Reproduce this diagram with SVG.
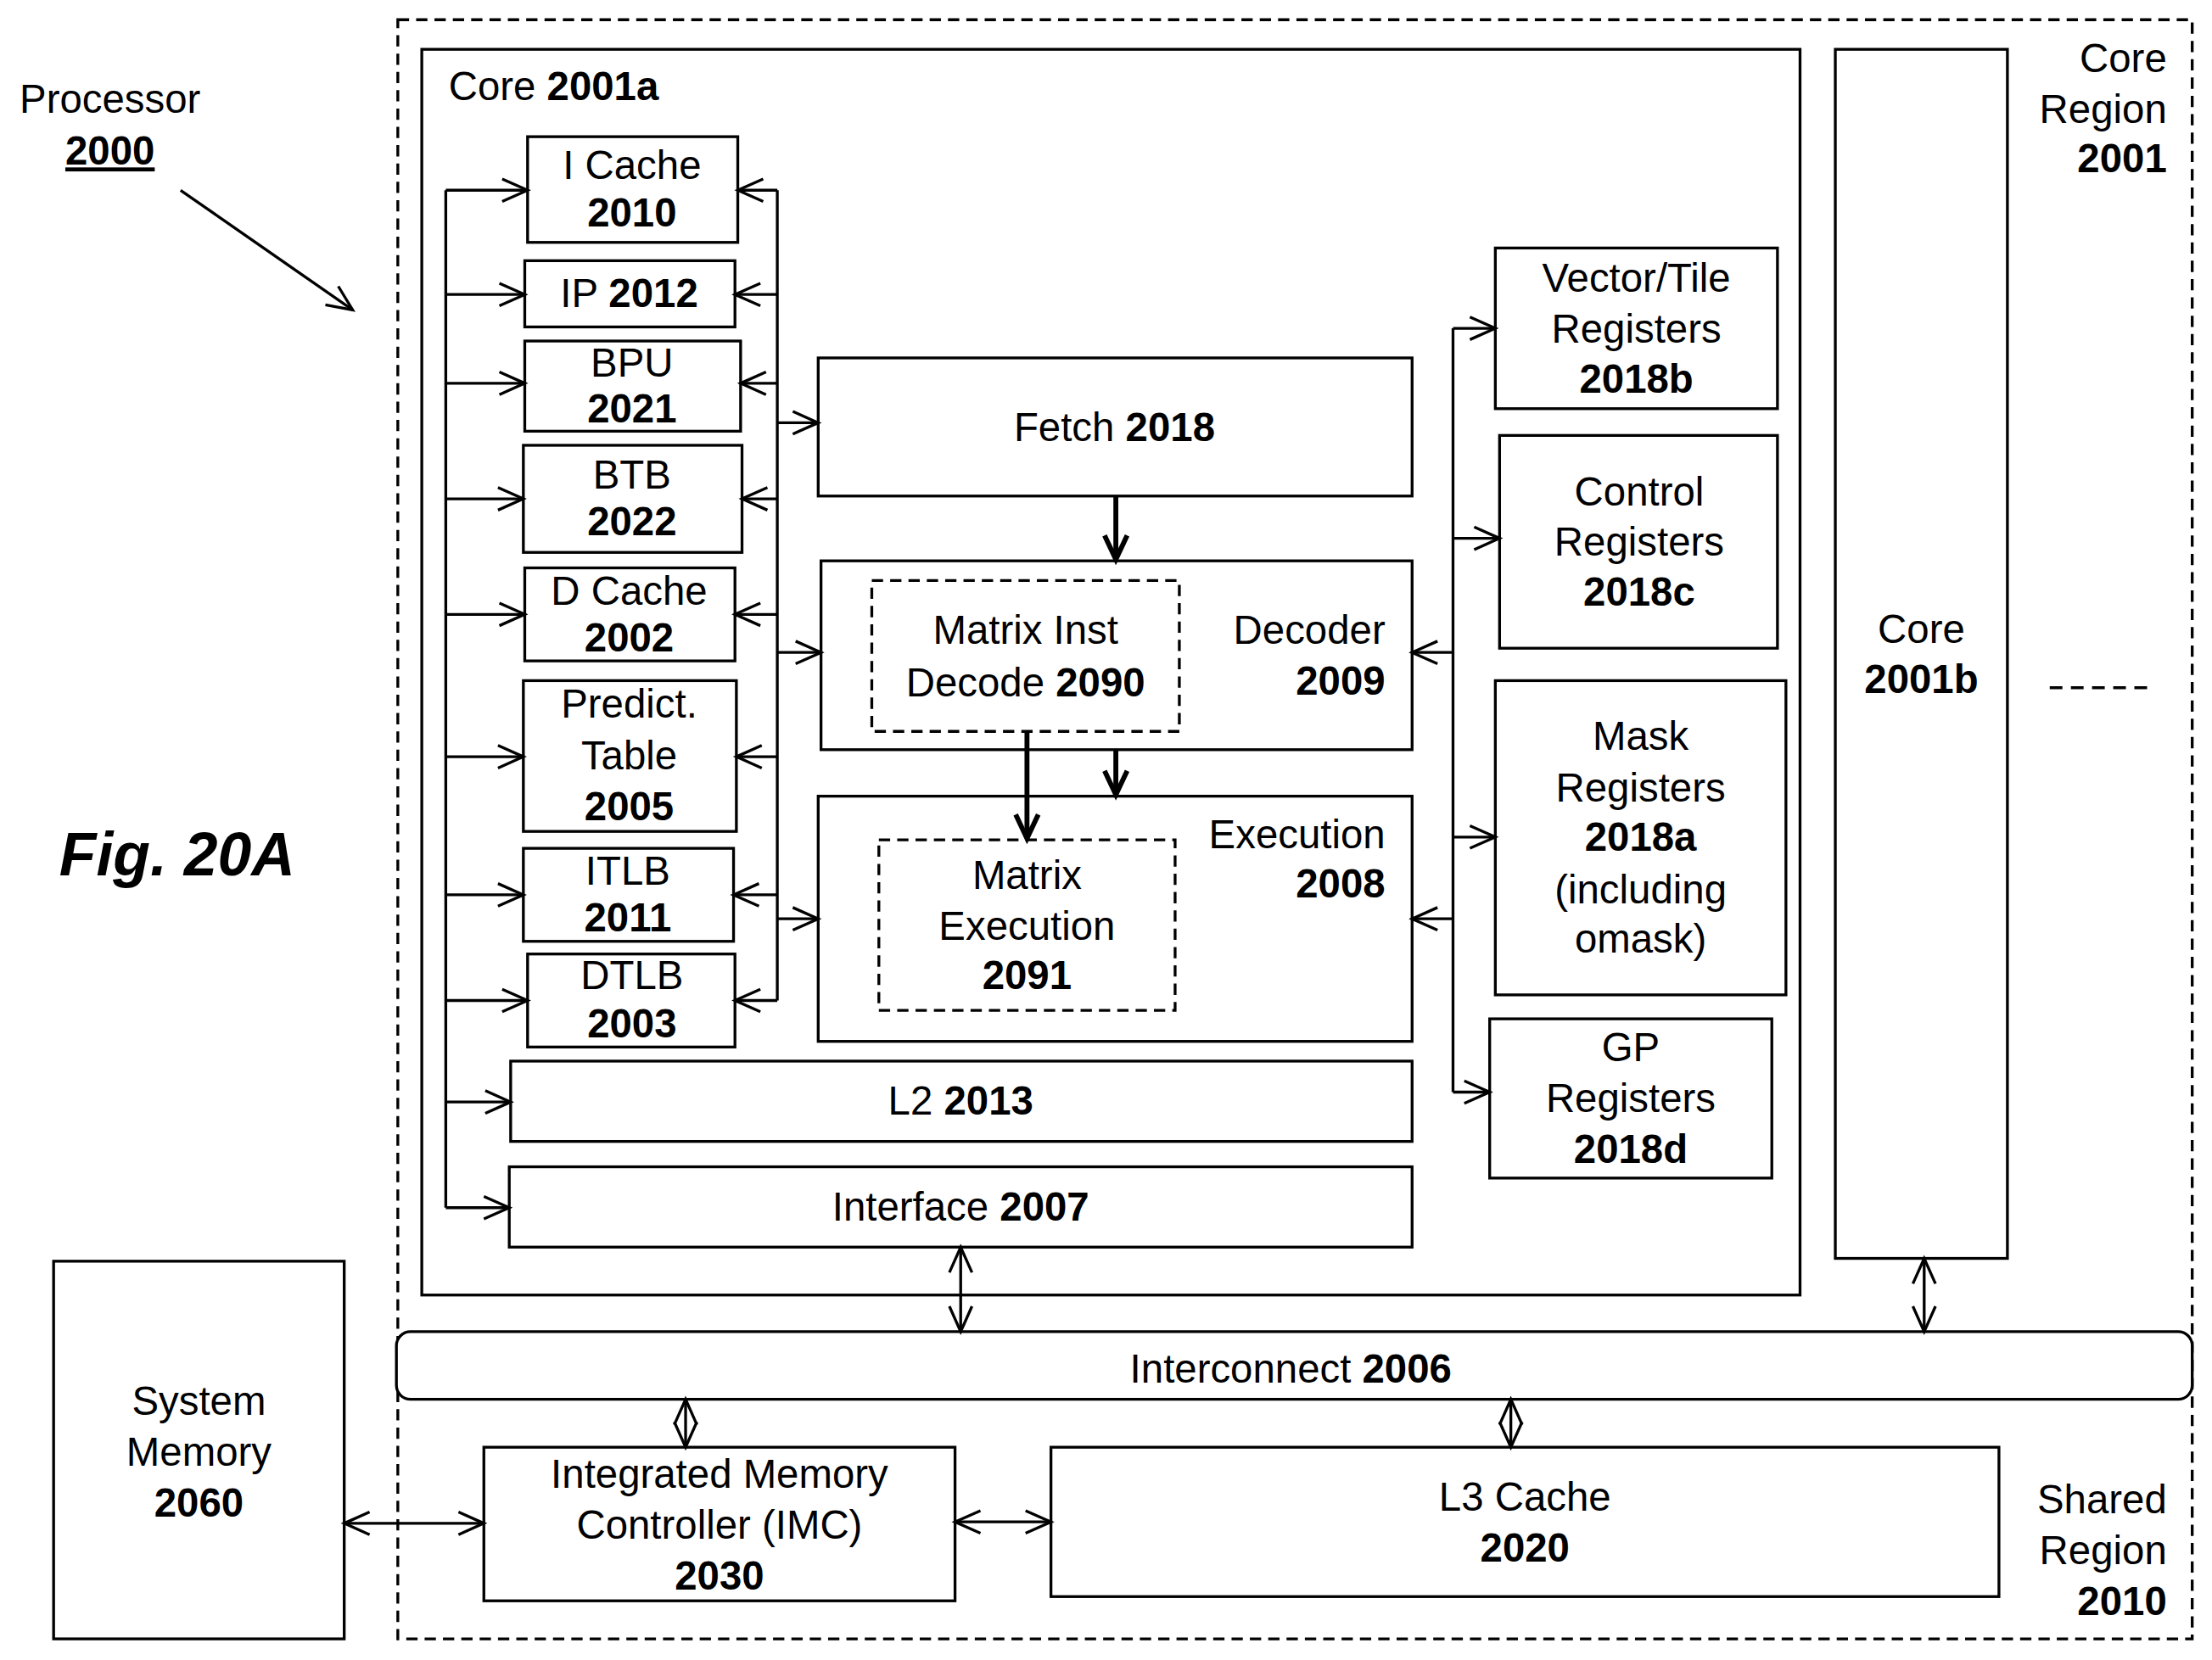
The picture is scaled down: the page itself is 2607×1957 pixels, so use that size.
<svg xmlns="http://www.w3.org/2000/svg" width="2607" height="1957" viewBox="0 0 2607 1957">
<defs>
<style>
.b{fill:#fff;stroke:#000;stroke-width:2}
.d{fill:none;stroke:#000;stroke-width:2;stroke-dasharray:8,5}
text{font-family:"Liberation Sans",Arial,sans-serif;font-size:28.5px;fill:#000;text-anchor:middle}
.r{text-anchor:end}
.l{text-anchor:start}
.bo{font-weight:bold}
.c line,.c path{stroke:#000;stroke-width:2;fill:none}
.c .t{stroke-width:3.5}
</style>
<marker id="a" markerUnits="userSpaceOnUse" markerWidth="24" markerHeight="24" refX="20" refY="12" orient="auto-start-reverse"><path d="M2,4 L20,12 L2,20" fill="none" stroke="#000" stroke-width="2"/></marker>
<marker id="at" markerUnits="userSpaceOnUse" markerWidth="24" markerHeight="24" refX="20" refY="12" orient="auto"><path d="M3,4 L20,12 L3,20" fill="none" stroke="#000" stroke-width="3.5"/></marker>
</defs>
<rect width="2607" height="1957" fill="#fff"/>
<g transform="scale(1.6626,1.6613)">
<g id="labels">
<text x="78" y="80">Processor</text>
<text x="78" y="117" class="bo" text-decoration="underline">2000</text>
<text x="42" y="621" class="l bo" font-style="italic" style="font-size:43px">Fig. 20A</text>
<text x="1536" y="51" class="r">Core</text>
<text x="1536" y="87" class="r">Region</text>
<text x="1536" y="122" class="r bo">2001</text>
<text x="1536" y="1074" class="r">Shared</text>
<text x="1536" y="1110" class="r">Region</text>
<text x="1536" y="1146" class="r bo">2010</text>
<line x1="1453" y1="488" x2="1527" y2="488" stroke="#000" stroke-width="2" stroke-dasharray="9,6"/>
</g>
<rect id="processor" class="d" x="282" y="14" width="1272" height="1149"/>
<g id="core2001a"><rect class="b" x="299" y="35" width="977" height="884"/><text x="318" y="71" class="l">Core <tspan class="bo">2001a</tspan></text></g>
<g id="core2001b"><rect class="b" x="1301" y="35" width="122" height="858"/><text x="1362" y="456">Core</text><text x="1362" y="492" class="bo">2001b</text></g>
<g id="icache"><rect class="b" x="374" y="97" width="149" height="75"/><text x="448" y="127">I Cache</text><text x="448" y="161" class="bo">2010</text></g>
<g id="ip"><rect class="b" x="372" y="185" width="149" height="47"/><text x="446" y="218">IP <tspan class="bo">2012</tspan></text></g>
<g id="bpu"><rect class="b" x="372" y="242" width="153" height="64"/><text x="448" y="267">BPU</text><text x="448" y="300" class="bo">2021</text></g>
<g id="btb"><rect class="b" x="371" y="316" width="155" height="76"/><text x="448" y="347">BTB</text><text x="448" y="380" class="bo">2022</text></g>
<g id="dcache"><rect class="b" x="372" y="403" width="149" height="66"/><text x="446" y="429">D Cache</text><text x="446" y="462" class="bo">2002</text></g>
<g id="predict"><rect class="b" x="371" y="483" width="151" height="107"/><text x="446" y="509">Predict.</text><text x="446" y="546">Table</text><text x="446" y="582" class="bo">2005</text></g>
<g id="itlb"><rect class="b" x="371" y="602" width="149" height="66"/><text x="445" y="628">ITLB</text><text x="445" y="661" class="bo">2011</text></g>
<g id="dtlb"><rect class="b" x="374" y="677" width="147" height="66"/><text x="448" y="702">DTLB</text><text x="448" y="736" class="bo">2003</text></g>
<g id="l2"><rect class="b" x="362" y="753" width="639" height="57"/><text x="681" y="791">L2 <tspan class="bo">2013</tspan></text></g>
<g id="interface"><rect class="b" x="361" y="828" width="640" height="57"/><text x="681" y="866">Interface <tspan class="bo">2007</tspan></text></g>
<g id="fetch"><rect class="b" x="580" y="254" width="421" height="98"/><text x="790" y="313">Fetch <tspan class="bo">2018</tspan></text></g>
<g id="decoder"><rect class="b" x="582" y="398" width="419" height="134"/><text x="982" y="457" class="r">Decoder</text><text x="982" y="493" class="r bo">2009</text>
<rect class="d" x="618" y="412" width="218" height="107"/><text x="727" y="457">Matrix Inst</text><text x="727" y="494">Decode <tspan class="bo">2090</tspan></text></g>
<g id="execution"><rect class="b" x="580" y="565" width="421" height="174"/><text x="982" y="602" class="r">Execution</text><text x="982" y="637" class="r bo">2008</text>
<rect class="d" x="623" y="596" width="210" height="121"/><text x="728" y="631">Matrix</text><text x="728" y="667">Execution</text><text x="728" y="702" class="bo">2091</text></g>
<g id="vector"><rect class="b" x="1060" y="176" width="200" height="114"/><text x="1160" y="207">Vector/Tile</text><text x="1160" y="243">Registers</text><text x="1160" y="279" class="bo">2018b</text></g>
<g id="control"><rect class="b" x="1063" y="309" width="197" height="151"/><text x="1162" y="359">Control</text><text x="1162" y="394">Registers</text><text x="1162" y="430" class="bo">2018c</text></g>
<g id="mask"><rect class="b" x="1060" y="483" width="206" height="223"/><text x="1163" y="532">Mask</text><text x="1163" y="569">Registers</text><text x="1163" y="604" class="bo">2018a</text><text x="1163" y="641">(including</text><text x="1163" y="676">omask)</text></g>
<g id="gp"><rect class="b" x="1056" y="723" width="200" height="113"/><text x="1156" y="753">GP</text><text x="1156" y="789">Registers</text><text x="1156" y="825" class="bo">2018d</text></g>
<g id="interconnect"><rect class="b" x="281" y="945" width="1273" height="48" rx="10"/><text x="915" y="981">Interconnect <tspan class="bo">2006</tspan></text></g>
<g id="imc"><rect class="b" x="343" y="1027" width="334" height="109"/><text x="510" y="1056">Integrated Memory</text><text x="510" y="1092">Controller (IMC)</text><text x="510" y="1128" class="bo">2030</text></g>
<g id="l3"><rect class="b" x="745" y="1027" width="672" height="106"/><text x="1081" y="1072">L3 Cache</text><text x="1081" y="1108" class="bo">2020</text></g>
<g id="sysmem"><rect class="b" x="38" y="895" width="206" height="268"/><text x="141" y="1004">System</text><text x="141" y="1040">Memory</text><text x="141" y="1076" class="bo">2060</text></g>
<g id="connectors" class="c">
<line x1="128" y1="135" x2="250" y2="220" marker-end="url(#a)"/>
<line x1="316" y1="135" x2="316" y2="857"/>
<line x1="316" y1="135" x2="374" y2="135" marker-end="url(#a)"/>
<line x1="316" y1="209" x2="372" y2="209" marker-end="url(#a)"/>
<line x1="316" y1="272" x2="372" y2="272" marker-end="url(#a)"/>
<line x1="316" y1="354" x2="371" y2="354" marker-end="url(#a)"/>
<line x1="316" y1="436" x2="372" y2="436" marker-end="url(#a)"/>
<line x1="316" y1="537" x2="371" y2="537" marker-end="url(#a)"/>
<line x1="316" y1="635" x2="371" y2="635" marker-end="url(#a)"/>
<line x1="316" y1="710" x2="374" y2="710" marker-end="url(#a)"/>
<line x1="316" y1="782" x2="362" y2="782" marker-end="url(#a)"/>
<line x1="316" y1="857" x2="361" y2="857" marker-end="url(#a)"/>
<line x1="551" y1="135" x2="551" y2="710"/>
<line x1="551" y1="135" x2="523" y2="135" marker-end="url(#a)"/>
<line x1="551" y1="209" x2="521" y2="209" marker-end="url(#a)"/>
<line x1="551" y1="272" x2="525" y2="272" marker-end="url(#a)"/>
<line x1="551" y1="354" x2="526" y2="354" marker-end="url(#a)"/>
<line x1="551" y1="436" x2="521" y2="436" marker-end="url(#a)"/>
<line x1="551" y1="537" x2="522" y2="537" marker-end="url(#a)"/>
<line x1="551" y1="635" x2="520" y2="635" marker-end="url(#a)"/>
<line x1="551" y1="710" x2="521" y2="710" marker-end="url(#a)"/>
<line x1="551" y1="300" x2="580" y2="300" marker-end="url(#a)"/>
<line x1="551" y1="463" x2="582" y2="463" marker-end="url(#a)"/>
<line x1="551" y1="652" x2="580" y2="652" marker-end="url(#a)"/>
<line class="t" x1="791" y1="352" x2="791" y2="397" marker-end="url(#at)"/>
<line class="t" x1="791" y1="532" x2="791" y2="564" marker-end="url(#at)"/>
<line class="t" x1="728" y1="519" x2="728" y2="595" marker-end="url(#at)"/>
<line x1="1030" y1="233" x2="1030" y2="775"/>
<line x1="1030" y1="233" x2="1060" y2="233" marker-end="url(#a)"/>
<line x1="1030" y1="382" x2="1063" y2="382" marker-end="url(#a)"/>
<line x1="1030" y1="594" x2="1060" y2="594" marker-end="url(#a)"/>
<line x1="1030" y1="775" x2="1056" y2="775" marker-end="url(#a)"/>
<line x1="1030" y1="463" x2="1001" y2="463" marker-end="url(#a)"/>
<line x1="1030" y1="652" x2="1001" y2="652" marker-end="url(#a)"/>
<line x1="681" y1="885" x2="681" y2="945" marker-start="url(#a)" marker-end="url(#a)"/>
<line x1="1364" y1="893" x2="1364" y2="945" marker-start="url(#a)" marker-end="url(#a)"/>
<line x1="486" y1="993" x2="486" y2="1027" marker-start="url(#a)" marker-end="url(#a)"/>
<line x1="1071" y1="993" x2="1071" y2="1027" marker-start="url(#a)" marker-end="url(#a)"/>
<line x1="244" y1="1081" x2="343" y2="1081" marker-start="url(#a)" marker-end="url(#a)"/>
<line x1="677" y1="1080" x2="745" y2="1080" marker-start="url(#a)" marker-end="url(#a)"/>
</g>
</g>
</svg>
